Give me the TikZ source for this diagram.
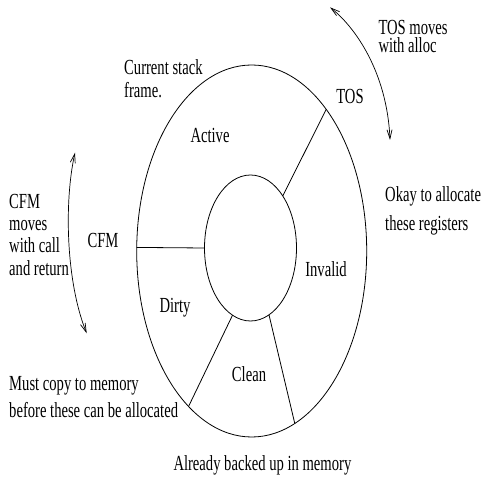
\documentclass[tikz,border=0pt]{standalone}
\usepackage{fontspec}
\setmainfont{Liberation Serif}[FakeStretch=0.68]
\usetikzlibrary{arrows.meta,calc}
\begin{document}
\begin{tikzpicture}[x=1pt,y=1pt,
  ring/.style={line width=0.8pt},
  txt/.style={font=\fontsize{21.5}{22}\selectfont, inner sep=0pt},
  blk/.style={txt, align=left, anchor=base west},
  moveArrow/.style={line width=0.7pt,
    {Straight Barb[length=9pt,width=5pt]}-{Straight Barb[length=9pt,width=5pt]}}
]
\useasboundingbox (0,0) rectangle (480,482);

% register rings
\coordinate (oc) at (251.7,231);
\coordinate (ic) at (250.5,234);
\draw[ring] (oc) ellipse [x radius=115, y radius=186];
\draw[ring] (ic) ellipse [x radius=46, y radius=73];

% sector boundaries between the two rings
\coordinate (oCfm) at ($(oc)+(178.9:115 and 186)$);
\coordinate (iCfm) at ($(ic)+(180:46 and 73)$);
\coordinate (oTos) at ($(oc)+(49.6:115 and 186)$);
\coordinate (iTos) at ($(ic)+(45.5:46 and 73)$);
\coordinate (oDc)  at ($(oc)+(236.7:115 and 186)$);
\coordinate (iDc)  at ($(ic)+(247:46 and 73)$);
\coordinate (oCi)  at ($(oc)+(292:115 and 186)$);
\coordinate (iCi)  at ($(ic)+(293.7:46 and 73)$);
\draw[ring] (oCfm) -- (iCfm);
\draw[ring] (oTos) -- (iTos);
\draw[ring] (oDc) -- (iDc);
\draw[ring] (oCi) -- (iCi);

% sector names
\node[txt] (active)  at (210,346.3) {Active};
\node[txt] (tos)     at (350,386)   {TOS};
\node[txt] (invalid) at (326,213)   {Invalid};
\node[txt] (dirty)   at (175,174)   {Dirty};
\node[txt] (clean)   at (249,108)   {Clean};
\node[txt] (cfm)     at (103,242)   {CFM};

% explanatory notes (anchored on the baseline of their last line)
\node[blk, font=\fontsize{21.5}{22.7}\selectfont] (cur) at (124,384.3)
  {Current stack\\frame.};
\node[blk, font=\fontsize{21.5}{29}\selectfont] (okay) at (385,251.3)
  {Okay to allocate\\these registers};
\node[blk, font=\fontsize{21.5}{18.5}\selectfont] (tosmv) at (378.3,429)
  {TOS moves\\with alloc};
\node[blk, font=\fontsize{21.5}{22.3}\selectfont] (cfmmv) at (9,206.8)
  {CFM\\moves\\with call\\and return};
\node[blk, font=\fontsize{21.5}{27}\selectfont] (must) at (9,64)
  {Must copy to memory\\before these can be allocated};
\node[blk] (backed) at (173.3,11) {Already backed up in memory};

% movement arrows
\coordinate (tosA) at (330,474.7);
\coordinate (tosB) at (390,342);
\draw[moveArrow] (tosA) .. controls (355,455) and (387,410) .. (tosB);
\coordinate (cfmA) at (75,329.3);
\coordinate (cfmB) at (86.7,148.7);
\draw[moveArrow] (cfmA) .. controls (64,280) and (66,200) .. (cfmB);
\end{tikzpicture}
\end{document}
